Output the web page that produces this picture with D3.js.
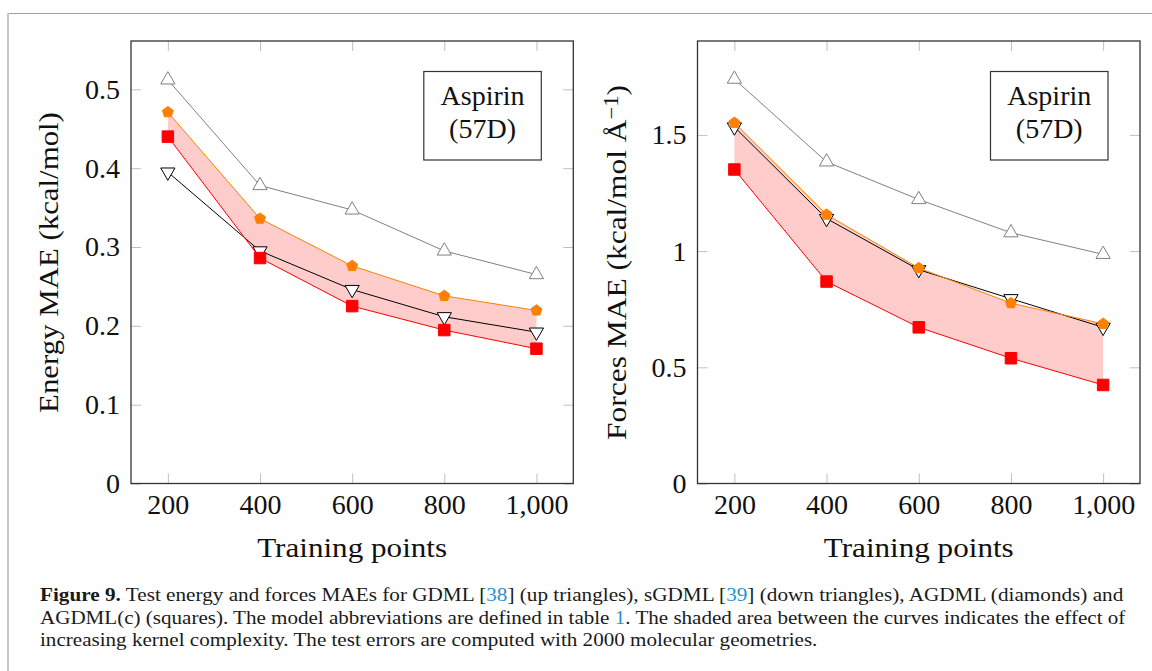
<!DOCTYPE html>
<html>
<head>
<meta charset="utf-8">
<script src="https://cdn.jsdelivr.net/npm/d3@7"></script>
<style>
  body { margin: 0; background: white; }
  svg { display: block; }
</style>
</head>
<body>
<script>
"use strict";

// data
const trainingPoints = [200, 400, 600, 800, 1000];
const xTicks = [200, 400, 600, 800, 1000];

const energyGDML = [0.512, 0.378, 0.347, 0.295, 0.265];
const energySGDML = [0.395, 0.295, 0.246, 0.2115, 0.192];
const energyAGDML = [0.471, 0.336, 0.276, 0.238, 0.2195];
const energyAGDMLc = [0.44, 0.286, 0.225, 0.1946, 0.171];
const energyTicks = [0, 0.1, 0.2, 0.3, 0.4, 0.5];

const forcesGDML = [1.74, 1.384, 1.222, 1.079, 0.986];
const forcesSGDML = [1.534, 1.14, 0.92, 0.795, 0.672];
const forcesAGDML = [1.552, 1.157, 0.927, 0.776, 0.687];
const forcesAGDMLc = [1.351, 0.869, 0.672, 0.539, 0.424];
const forcesTicks = [0, 0.5, 1, 1.5];

const width = 1152;
const height = 671;
const serif = "'Liberation Serif', 'DejaVu Serif', serif";

const svg = d3
  .select("body")
  .append("svg")
  .attr("width", width)
  .attr("height", height);

// page frame
svg
  .append("line")
  .attr("x1", 8)
  .attr("x2", width)
  .attr("y1", 13.5)
  .attr("y2", 13.5)
  .attr("stroke", "#a0a0a0")
  .attr("stroke-width", 1);
svg
  .append("line")
  .attr("x1", 8)
  .attr("x2", 8)
  .attr("y1", 13)
  .attr("y2", height)
  .attr("stroke", "#c8c8c8")
  .attr("stroke-width", 2);

// regular pentagon marker for AGDML
const symbolPentagon = {
  draw(context, size) {
    const r = Math.sqrt(size / 2.3776);
    for (let i = 0; i < 5; i++) {
      const a = -Math.PI / 2 + (i * 2 * Math.PI) / 5;
      const x = r * Math.cos(a);
      const y = r * Math.sin(a);
      if (i === 0) context.moveTo(x, y);
      else context.lineTo(x, y);
    }
    context.closePath();
  },
};

function scaleToWidth(sel, target) {
  const w = sel.node().getBBox().width;
  return target / w;
}

function drawPanel(cfg) {
  const top = 41;
  const bottom = 483.5;

  const x = d3.scaleLinear().domain([120, 1080]).range([cfg.left, cfg.right]);
  const y = d3.scaleLinear().domain(cfg.yDomain).range([bottom, top]);

  const g = svg.append("g");

  // ticks on all four sides, pointing inward
  const tickColor = "#c0c0c0";
  const axes = [
    { axis: d3.axisBottom(x).tickValues(xTicks).tickFormat(d3.format(",")), at: `translate(0,${bottom})` },
    { axis: d3.axisTop(x).tickValues(xTicks).tickFormat(""), at: `translate(0,${top})` },
    { axis: d3.axisLeft(y).tickValues(cfg.yTicks).tickFormat(d3.format("~g")), at: `translate(${cfg.left},0)` },
    { axis: d3.axisRight(y).tickValues(cfg.yTicks).tickFormat(""), at: `translate(${cfg.right},0)` },
  ];
  axes.forEach((a) => {
    const ag = g
      .append("g")
      .attr("transform", a.at)
      .call(a.axis.tickSize(-10).tickPadding(11));
    ag.select(".domain").remove();
    ag.selectAll(".tick line").attr("stroke", tickColor).attr("stroke-width", 1);
    ag.selectAll(".tick text")
      .attr("fill", "#111")
      .style("font-family", serif)
      .style("font-size", "28px");
  });

  // shaded area between AGDML and AGDML(c)
  const areaData = trainingPoints.map((t, i) => ({
    t,
    hi: cfg.agdml[i],
    lo: cfg.agdmlc[i],
  }));
  g.append("path")
    .datum(areaData)
    .attr("fill", "#ffcccc")
    .attr(
      "d",
      d3
        .area()
        .x((d) => x(d.t))
        .y0((d) => y(d.lo))
        .y1((d) => y(d.hi))
    );

  const series = [
    { values: cfg.gdml, color: "#808080", symbol: d3.symbolTriangle, size: 88, fill: "white", rotate: 0 },
    { values: cfg.sgdml, color: "#000000", symbol: d3.symbolTriangle, size: 88, fill: "white", rotate: 180 },
    { values: cfg.agdml, color: "#ff8000", symbol: symbolPentagon, size: 78, fill: "#ff8000", rotate: 0 },
    { values: cfg.agdmlc, color: "#ff0000", symbol: d3.symbolSquare, size: 132, fill: "#ff0000", rotate: 0 },
  ];

  const line = d3
    .line()
    .x((d, i) => x(trainingPoints[i]))
    .y((d) => y(d));

  series.forEach((s) => {
    g.append("path")
      .datum(s.values)
      .attr("fill", "none")
      .attr("stroke", s.color)
      .attr("stroke-width", 1)
      .attr("d", line);

    g.append("g")
      .selectAll("path")
      .data(s.values)
      .join("path")
      .attr("d", d3.symbol().type(s.symbol).size(s.size))
      .attr(
        "transform",
        (d, i) => `translate(${x(trainingPoints[i])},${y(d)}) rotate(${s.rotate})`
      )
      .attr("fill", s.fill)
      .attr("stroke", s.color)
      .attr("stroke-width", 1);
  });

  // plot frame
  g.append("rect")
    .attr("x", cfg.left)
    .attr("y", top)
    .attr("width", cfg.right - cfg.left)
    .attr("height", bottom - top)
    .attr("fill", "none")
    .attr("stroke", "#333")
    .attr("stroke-width", 1.3);

  // molecule label box
  const bx = cfg.right - 32 - 117.5;
  g.append("rect")
    .attr("x", bx)
    .attr("y", 71.5)
    .attr("width", 117.5)
    .attr("height", 88.5)
    .attr("fill", "white")
    .attr("stroke", "#333")
    .attr("stroke-width", 1.2);
  ["Aspirin", "(57D)"].forEach((t, i) => {
    g.append("text")
      .attr("x", bx + 117.5 / 2)
      .attr("y", 105 + i * 33)
      .attr("text-anchor", "middle")
      .attr("fill", "#111")
      .style("font-family", serif)
      .style("font-size", "28px")
      .text(t);
  });

  // x title
  const cx = (cfg.left + cfg.right) / 2;
  const xt = g
    .append("text")
    .attr("text-anchor", "middle")
    .attr("fill", "#111")
    .style("font-family", serif)
    .style("font-size", "28px")
    .text("Training points");
  xt.attr(
    "transform",
    `translate(${cx},557) scale(${scaleToWidth(xt, 190)},1)`
  );

  // y title
  const yt = g
    .append("text")
    .attr("text-anchor", "middle")
    .attr("fill", "#111")
    .style("font-family", serif)
    .style("font-size", "28px");
  cfg.yTitle(yt);
  yt.attr(
    "transform",
    `translate(${cfg.yTitleX},262.5) rotate(-90) scale(${scaleToWidth(yt, cfg.yTitleLen)},1)`
  );
}

drawPanel({
  left: 131,
  right: 573.3,
  yDomain: [0, 0.5613],
  yTicks: energyTicks,
  gdml: energyGDML,
  sgdml: energySGDML,
  agdml: energyAGDML,
  agdmlc: energyAGDMLc,
  yTitleX: 58,
  yTitleLen: 301,
  yTitle: (t) => t.text("Energy MAE (kcal/mol)"),
});

drawPanel({
  left: 697.5,
  right: 1140,
  yDomain: [0, 1.904],
  yTicks: forcesTicks,
  gdml: forcesGDML,
  sgdml: forcesSGDML,
  agdml: forcesAGDML,
  agdmlc: forcesAGDMLc,
  yTitleX: 626,
  yTitleLen: 355,
  yTitle: (t) => {
    t.append("tspan").text("Forces MAE (kcal/mol Å");
    t.append("tspan").attr("dy", "-0.42em").style("font-size", "20px").text("−1");
    t.append("tspan").attr("dy", "0.3em").text(")");
  },
});

// caption
const captionLines = [
  {
    target: 1084,
    parts: [
      { text: "Figure 9.", bold: true },
      { text: " Test energy and forces MAEs for GDML [" },
      { text: "38", link: true },
      { text: "] (up triangles), sGDML [" },
      { text: "39", link: true },
      { text: "] (down triangles), AGDML (diamonds) and" },
    ],
  },
  {
    target: 1086,
    parts: [
      { text: "AGDML(c) (squares). The model abbreviations are defined in table " },
      { text: "1", link: true },
      { text: ". The shaded area between the curves indicates the effect of" },
    ],
  },
  {
    target: 778,
    parts: [
      { text: "increasing kernel complexity. The test errors are computed with 2000 molecular geometries." },
    ],
  },
];

captionLines.forEach((ln, i) => {
  const t = svg
    .append("text")
    .attr("fill", "#1a1a1a")
    .style("font-family", serif)
    .style("font-size", "18px");
  ln.parts.forEach((p) => {
    t.append("tspan")
      .attr("font-weight", p.bold ? "bold" : null)
      .attr("fill", p.link ? "#2b8fd0" : null)
      .text(p.text);
  });
  t.attr(
    "transform",
    `translate(40,${601 + i * 22.5}) scale(${scaleToWidth(t, ln.target)},1)`
  );
});
</script>
</body>
</html>
